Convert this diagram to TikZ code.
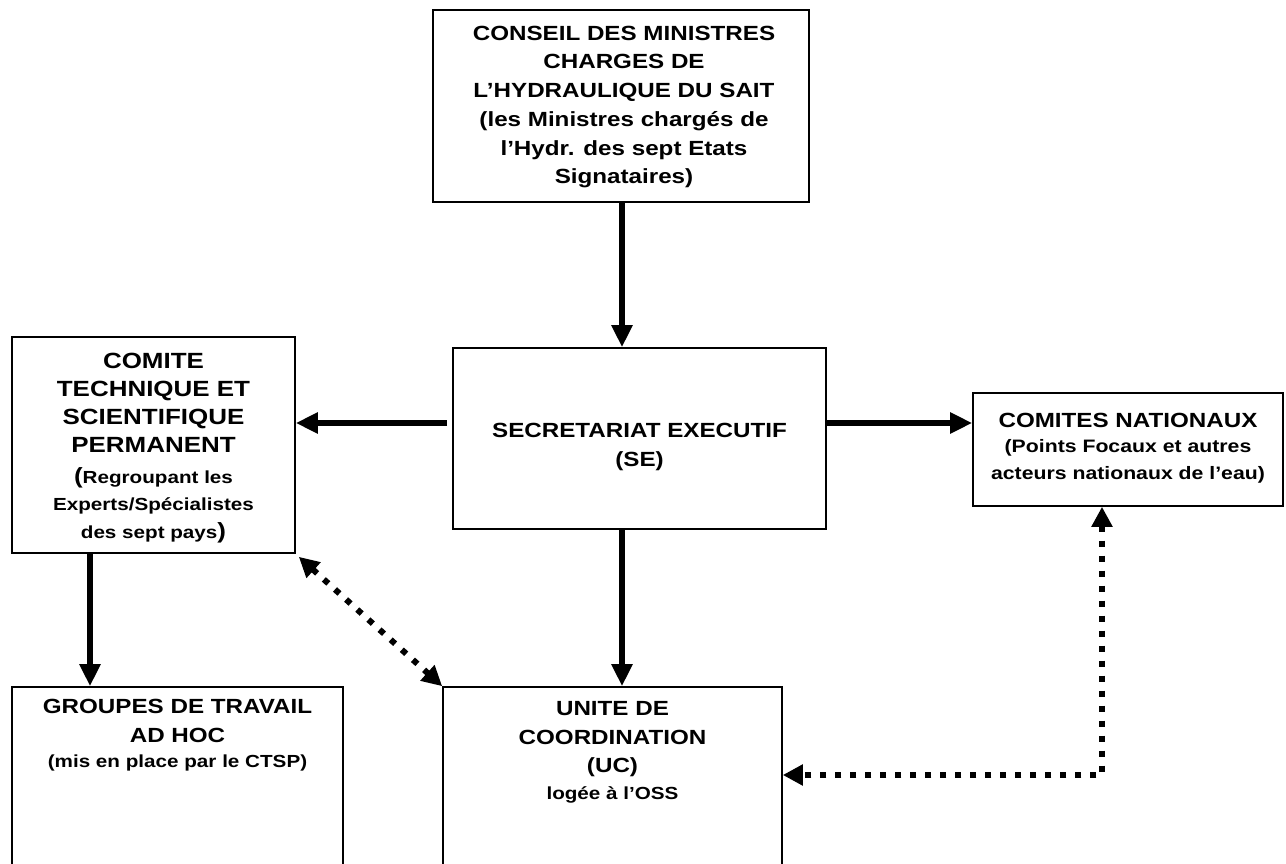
\documentclass[tikz,border=0pt]{standalone}
\usepackage{fontspec}
\setmainfont{Liberation Sans}[FakeStretch=1.18]
\usetikzlibrary{arrows.meta}
\newcommand\txtA{\fontsize{20.5}{28.7}\selectfont\bfseries}
\newcommand\txtC{\fontsize{22}{28}\selectfont\bfseries}
\newcommand\txtB{\fontsize{17.5}{26}\selectfont\bfseries}
\newcommand\txtD{\fontsize{18}{25}\selectfont\bfseries}
\begin{document}
\begin{tikzpicture}[x=1pt,y=-1pt,
  box/.style={draw, line width=1.6pt, inner sep=0pt},
  txt/.style={align=center, inner sep=0pt, font=\txtA},
  arr/.style={line width=6pt, -{Triangle[length=22pt,width=20pt]}},
  dotarr/.style={line width=6pt, dash pattern=on 6pt off 9pt,
     {Triangle[length=20pt,width=20pt]}-{Triangle[length=20pt,width=20pt]}}]
\path[use as bounding box, clip] (0,0) rectangle (1286,864);
\fill[white] (0,0) rectangle (1286,864);

% boxes
\node[box, minimum width=376pt, minimum height=192pt] (cm) at (621,106) {};
\node[box, minimum width=373pt, minimum height=181pt] (se) at (639.5,438.5) {};
\node[box, minimum width=283pt, minimum height=216pt] (ctsp) at (153.5,445) {};
\node[box, minimum width=310pt, minimum height=113pt] (cn) at (1128,449.5) {};
\node[box, minimum width=331pt, minimum height=200pt] (gt) at (177.5,787) {};
\node[box, minimum width=339pt, minimum height=200pt] (uc) at (612.5,787) {};

% texts
\node[txt] (cmt) at (624,107) {CONSEIL DES MINISTRES\\CHARGES DE\\L’HYDRAULIQUE DU SAIT\\(les Ministres chargés de\\l’Hydr. des sept Etats\\Signataires)};
\node[txt] (set) at (639.5,447) {SECRETARIAT EXECUTIF\\(SE)};
\node[txt, font=\txtC] (ctspt) at (153.5,448) {COMITE\\TECHNIQUE ET\\SCIENTIFIQUE\\PERMANENT\\[3pt]\txtB{\txtC(}Regroupant les\\[-1pt]\txtB Experts/Spécialistes\\\txtB des sept pays{\txtC)}};
\node[txt] (cnt) at (1128,448) {COMITES NATIONAUX\\[-3pt]\txtD(Points Focaux et autres\\[-2pt]\txtD acteurs nationaux de l’eau)};
\node[txt, anchor=north] (gtt) at (177.5,699) {GROUPES DE TRAVAIL\\AD HOC\\[-3pt]\txtB(mis en place par le CTSP)};
\node[txt, anchor=north] (uct) at (612.5,701) {UNITE DE\\COORDINATION\\(UC)\\[-2pt]\txtB logée à l’OSS};

% solid arrows
\draw[arr] ([xshift=1pt]cm.south) -- ([xshift=1pt]cm.south |- se.north);
\draw[arr] ([xshift=1pt]cm.south |- se.south) -- ([xshift=1pt]cm.south |- uc.north);
\draw[arr] ([xshift=-5pt,yshift=15.5pt]se.west) -- ([yshift=15.5pt]se.west -| ctsp.east);
\draw[arr] ([yshift=15.5pt]se.east) -- ([yshift=15.5pt]se.east -| cn.west);
\draw[arr] ([xshift=-63.5pt]ctsp.south) -- ([xshift=-63.5pt]ctsp.south |- gt.north);

% dotted arrows
\draw[dotarr] ([xshift=3pt,yshift=-3pt]ctsp.south east) -- (uc.north west);
\coordinate (bend) at (1102,775);
\draw[dotarr] (cn.south -| bend) -- (bend) -- (bend -| uc.east);
\end{tikzpicture}
\end{document}
